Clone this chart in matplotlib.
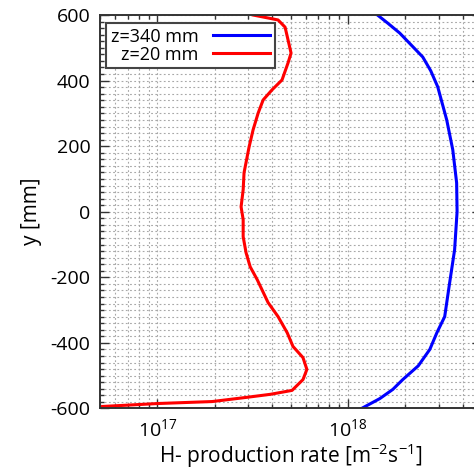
import matplotlib
matplotlib.use("Agg")
import matplotlib.pyplot as plt
from matplotlib.ticker import MultipleLocator, LogLocator

plt.rcParams["font.family"] = ["Open Sans", "DejaVu Sans"]
plt.rcParams["mathtext.fontset"] = "custom"
plt.rcParams["mathtext.rm"] = "Open Sans"
plt.rcParams["mathtext.it"] = "Open Sans"
plt.rcParams["mathtext.bf"] = "Open Sans"
plt.rcParams["axes.unicode_minus"] = False

# z = 340 mm profile
y_340 = [600, 575, 545, 472, 430, 381, 280, 189, 88, 0, -116, -216, -320, -369, -420,
         -470, -512, -542, -570, -600]
rate_340 = [1.43e18, 1.62e18, 1.87e18, 2.47e18, 2.72e18, 2.96e18, 3.30e18, 3.55e18,
            3.72e18, 3.74e18, 3.63e18, 3.42e18, 3.22e18, 2.93e18, 2.69e18, 2.34e18,
            1.94e18, 1.72e18, 1.47e18, 1.18e18]

# z = 20 mm profile
y_20 = [600, 585, 563, 524, 484, 454, 402, 372, 341, 301, 250, 198, 168, 119, 67, 15,
        -24, -76, -125, -168, -207, -277, -320, -369, -411, -445, -481, -512, -545,
        -557, -566, -579, -585, -594, -600]
rate_20 = [3.18e17, 4.30e17, 4.68e17, 4.85e17, 5.03e17, 4.85e17, 4.51e17, 4.00e17,
           3.59e17, 3.38e17, 3.18e17, 3.03e17, 2.96e17, 2.85e17, 2.82e17, 2.75e17,
           2.82e17, 2.82e17, 2.92e17, 3.07e17, 3.34e17, 3.81e17, 4.30e17, 4.80e17,
           5.15e17, 5.81e17, 6.09e17, 5.81e17, 5.09e17, 3.91e17, 2.96e17, 1.94e17,
           1.01e17, 5.15e16, 4.5e16]

fig = plt.figure(figsize=(4.74, 4.70), dpi=100)
ax = fig.add_axes([0.211, 0.131, 0.804, 0.837])

ax.plot(rate_340, y_340, color="#0000ff", linewidth=2.2, label="z=340 mm")
ax.plot(rate_20, y_20, color="#ff0000", linewidth=2.2, label="z=20 mm")

ax.set_xscale("log")
ax.set_xlim(5e16, 5e18)
ax.set_ylim(-600, 600)
ax.yaxis.set_major_locator(MultipleLocator(200))
ax.yaxis.set_minor_locator(MultipleLocator(20))
ax.xaxis.set_minor_locator(LogLocator(base=10, subs=range(2, 10)))

ax.grid(which="both", linestyle=(0, (1.6, 2.2)), color="#a8a8a8", linewidth=0.8)
ax.tick_params(which="both", direction="in", top=True, right=True,
               color="#333333", width=1.0, labelsize=14)
ax.tick_params(which="major", length=6.5, pad=7)
ax.tick_params(which="minor", length=3.2)
for spine in ax.spines.values():
    spine.set_color("#333333")
    spine.set_linewidth(1.4)

ax.set_xlabel(r"H- production rate [m$^{-2}$s$^{-1}$]", fontsize=15, labelpad=1)
ax.set_ylabel("y [mm]", fontsize=15, labelpad=6)

leg = ax.legend(loc="upper left", bbox_to_anchor=(0.0157, 0.9797), borderaxespad=0,
                markerfirst=False, fontsize=13, handlelength=3.2, handletextpad=0.8,
                labelspacing=0.0, borderpad=0.25, fancybox=False, framealpha=1)
leg.get_frame().set_edgecolor("#444444")
leg.get_frame().set_linewidth(1.5)

fig.savefig("out.png", dpi=100)
